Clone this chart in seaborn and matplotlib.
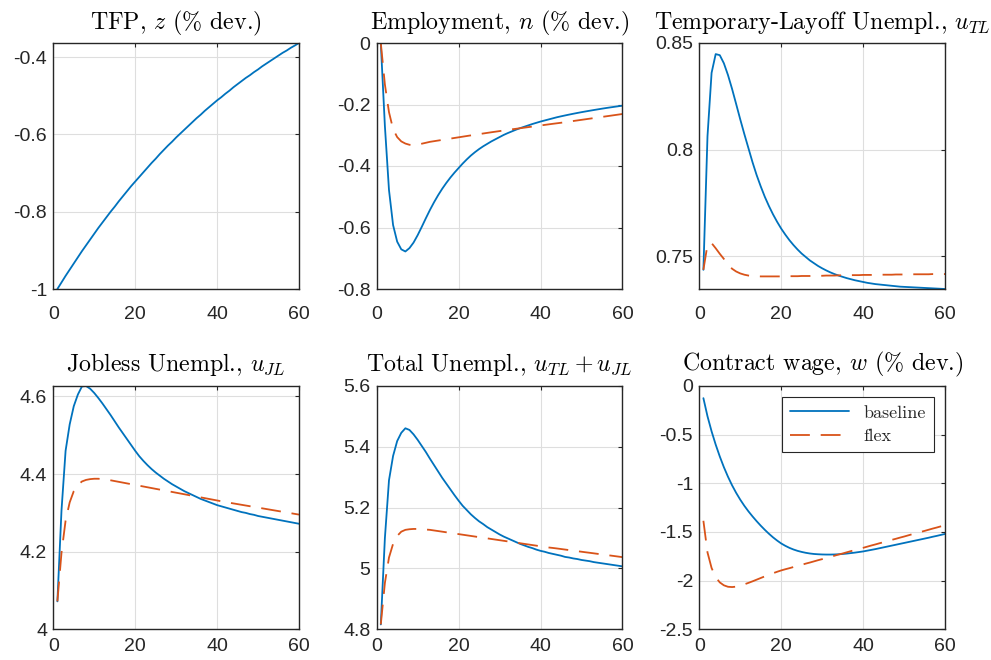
import matplotlib
matplotlib.use("Agg")
import matplotlib.pyplot as plt
from matplotlib.ticker import FuncFormatter
import pandas as pd
import seaborn as sns

# Impulse responses, periods 1..60
periods = list(range(1, 61))

tfp = [-1.000, -0.983, -0.966, -0.950, -0.934, -0.918, -0.902, -0.887, -0.872, -0.857,
       -0.842, -0.828, -0.814, -0.800, -0.787, -0.773, -0.760, -0.747, -0.734, -0.722,
       -0.710, -0.698, -0.686, -0.674, -0.663, -0.651, -0.640, -0.629, -0.619, -0.608,
       -0.598, -0.588, -0.578, -0.568, -0.558, -0.549, -0.539, -0.530, -0.521, -0.512,
       -0.504, -0.495, -0.487, -0.478, -0.470, -0.462, -0.454, -0.447, -0.439, -0.432,
       -0.424, -0.417, -0.410, -0.403, -0.396, -0.389, -0.383, -0.376, -0.370, -0.3636]

emp_base = [0.000, -0.270, -0.478, -0.592, -0.646, -0.671, -0.678, -0.667, -0.649, -0.625,
            -0.598, -0.570, -0.543, -0.518, -0.495, -0.474, -0.455, -0.4375, -0.4215, -0.4067,
            -0.392, -0.3785, -0.366, -0.355, -0.345, -0.336, -0.328, -0.320, -0.313, -0.306,
            -0.299, -0.293, -0.2875, -0.282, -0.277, -0.2725, -0.268, -0.2635, -0.2595, -0.2555,
            -0.252, -0.2485, -0.245, -0.2415, -0.2385, -0.2356, -0.2328, -0.2301, -0.2275, -0.225,
            -0.2226, -0.2203, -0.218, -0.2158, -0.2136, -0.2115, -0.2095, -0.2076, -0.2057, -0.2039]
emp_flex = [0.000, -0.135, -0.225, -0.280, -0.306, -0.320, -0.327, -0.331, -0.332, -0.3308,
            -0.3275, -0.3245, -0.3214, -0.3193, -0.3172, -0.3151, -0.313, -0.3109, -0.3088, -0.3067,
            -0.3046, -0.3025, -0.3004, -0.2983, -0.2963, -0.2943, -0.2923, -0.2903, -0.2884, -0.2865,
            -0.2846, -0.2827, -0.2808, -0.279, -0.2772, -0.2754, -0.2736, -0.2718, -0.270, -0.2682,
            -0.2664, -0.2646, -0.2628, -0.2611, -0.2594, -0.2575, -0.2556, -0.2537, -0.2518, -0.2499,
            -0.248, -0.2461, -0.2442, -0.2423, -0.2404, -0.2385, -0.2366, -0.2347, -0.2328, -0.2309]

tl_base = [0.7437, 0.8063, 0.8360, 0.8448, 0.8443, 0.8405, 0.8350, 0.8285, 0.8214, 0.8142,
           0.8073, 0.8007, 0.7941, 0.7881, 0.7828, 0.7779, 0.7736, 0.7697, 0.7662, 0.7630,
           0.7602, 0.7576, 0.7553, 0.7532, 0.7513, 0.7497, 0.7481, 0.7468, 0.7455, 0.7444,
           0.7434, 0.7425, 0.7417, 0.7410, 0.7404, 0.7398, 0.7393, 0.7388, 0.7384, 0.7380,
           0.7376, 0.7373, 0.7370, 0.7368, 0.7366, 0.7364, 0.7362, 0.7360, 0.7358, 0.7357,
           0.7356, 0.7355, 0.7354, 0.7353, 0.7352, 0.7351, 0.7350, 0.7349, 0.7348, 0.7347]
tl_flex = [0.7437, 0.7555, 0.7562, 0.7538, 0.7512, 0.7488, 0.7462, 0.7442, 0.7429, 0.7420,
           0.7414, 0.7410, 0.7408, 0.7407, 0.7406, 0.7406, 0.7406, 0.7406, 0.7406, 0.7406,
           0.7406, 0.7407, 0.7407, 0.7407, 0.7408, 0.7408, 0.7408, 0.7409, 0.7409, 0.7409,
           0.7410, 0.7410, 0.7410, 0.7411, 0.7411, 0.7411, 0.7412, 0.7412, 0.7412, 0.7413,
           0.7413, 0.7413, 0.7413, 0.7414, 0.7414, 0.7414, 0.7414, 0.7415, 0.7415, 0.7415,
           0.7415, 0.7416, 0.7416, 0.7416, 0.7416, 0.7416, 0.7417, 0.7417, 0.7417, 0.7417]

jl_base = [4.072, 4.306, 4.460, 4.528, 4.575, 4.605, 4.626, 4.627, 4.620, 4.609,
           4.596, 4.582, 4.567, 4.552, 4.536, 4.520, 4.505, 4.490, 4.475, 4.460,
           4.446, 4.434, 4.423, 4.413, 4.404, 4.396, 4.388, 4.381, 4.374, 4.368,
           4.362, 4.356, 4.351, 4.346, 4.341, 4.336, 4.332, 4.328, 4.324, 4.320,
           4.317, 4.314, 4.311, 4.308, 4.305, 4.302, 4.300, 4.297, 4.295, 4.292,
           4.290, 4.288, 4.286, 4.284, 4.282, 4.280, 4.278, 4.276, 4.274, 4.272]
jl_flex = [4.072, 4.197, 4.280, 4.327, 4.356, 4.372, 4.381, 4.385, 4.387, 4.388,
           4.388, 4.387, 4.386, 4.384, 4.382, 4.380, 4.378, 4.376, 4.374, 4.372,
           4.370, 4.368, 4.366, 4.364, 4.362, 4.360, 4.358, 4.356, 4.354, 4.352,
           4.350, 4.348, 4.346, 4.344, 4.342, 4.340, 4.338, 4.336, 4.334, 4.332,
           4.330, 4.328, 4.3262, 4.3244, 4.3226, 4.3208, 4.319, 4.3172, 4.3154, 4.3136,
           4.3118, 4.310, 4.3082, 4.3064, 4.3046, 4.3028, 4.301, 4.2992, 4.2974, 4.2956]

tot_base = [4.816, 5.100, 5.290, 5.370, 5.419, 5.446, 5.461, 5.4555, 5.441, 5.423,
            5.403, 5.383, 5.361, 5.340, 5.319, 5.298, 5.279, 5.260, 5.241, 5.223,
            5.206, 5.192, 5.178, 5.166, 5.155, 5.146, 5.136, 5.128, 5.120, 5.112,
            5.105, 5.099, 5.093, 5.087, 5.081, 5.076, 5.071, 5.067, 5.062, 5.058,
            5.055, 5.051, 5.048, 5.045, 5.042, 5.038, 5.036, 5.033, 5.031, 5.028,
            5.026, 5.024, 5.021, 5.019, 5.017, 5.015, 5.013, 5.011, 5.009, 5.007]
tot_flex = [4.816, 4.9525, 5.036, 5.081, 5.107, 5.121, 5.127, 5.129, 5.130, 5.130,
            5.129, 5.128, 5.127, 5.125, 5.123, 5.121, 5.119, 5.117, 5.115, 5.113,
            5.111, 5.109, 5.107, 5.105, 5.103, 5.101, 5.099, 5.097, 5.095, 5.093,
            5.091, 5.089, 5.087, 5.085, 5.083, 5.081, 5.079, 5.077, 5.075, 5.073,
            5.071, 5.069, 5.0675, 5.0658, 5.064, 5.0622, 5.0604, 5.0587, 5.0569, 5.0551,
            5.0533, 5.0516, 5.0498, 5.048, 5.0462, 5.0444, 5.0427, 5.0409, 5.0391, 5.0373]

wage_base = [-0.125, -0.311, -0.466, -0.602, -0.724, -0.834, -0.932, -1.020, -1.098, -1.168,
             -1.231, -1.288, -1.340, -1.389, -1.435, -1.478, -1.518, -1.555, -1.588, -1.618,
             -1.642, -1.663, -1.680, -1.694, -1.705, -1.714, -1.721, -1.726, -1.729, -1.731,
             -1.732, -1.732, -1.731, -1.729, -1.726, -1.722, -1.717, -1.712, -1.706, -1.700,
             -1.692, -1.684, -1.676, -1.667, -1.658, -1.649, -1.640, -1.631, -1.622, -1.613,
             -1.604, -1.595, -1.586, -1.577, -1.568, -1.559, -1.549, -1.540, -1.530, -1.520]
wage_flex = [-1.385, -1.710, -1.870, -1.965, -2.018, -2.048, -2.063, -2.066, -2.062, -2.051,
             -2.038, -2.023, -2.007, -1.990, -1.973, -1.956, -1.940, -1.924, -1.909, -1.895,
             -1.883, -1.872, -1.860, -1.848, -1.837, -1.825, -1.814, -1.802, -1.790, -1.779,
             -1.767, -1.755, -1.744, -1.732, -1.721, -1.709, -1.697, -1.686, -1.674, -1.663,
             -1.651, -1.639, -1.628, -1.616, -1.605, -1.593, -1.581, -1.570, -1.558, -1.547,
             -1.535, -1.523, -1.512, -1.500, -1.489, -1.477, -1.465, -1.454, -1.442, -1.431]

titles = [r"TFP, $z$ (% dev.)",
          r"Employment, $n$ (% dev.)",
          r"Temporary-Layoff Unempl., $u_{TL}$",
          r"Jobless Unempl., $u_{JL}$",
          r"Total Unempl., $u_{TL}+u_{JL}$",
          r"Contract wage, $w$ (% dev.)"]
x_ticks = [0, 20, 40, 60]
y_ticks = [[-1, -0.8, -0.6, -0.4],
           [-0.8, -0.6, -0.4, -0.2, 0],
           [0.75, 0.8, 0.85],
           [4, 4.2, 4.4, 4.6],
           [4.8, 5, 5.2, 5.4, 5.6],
           [-2.5, -2, -1.5, -1, -0.5, 0]]
y_limits = [(min(tfp), max(tfp)),
            (-0.8, 0),
            (min(tl_base), 0.85),
            (4, max(jl_base)),
            (4.8, 5.6),
            (-2.5, 0)]
series = [(tfp, None),
          (emp_base, emp_flex),
          (tl_base, tl_flex),
          (jl_base, jl_flex),
          (tot_base, tot_flex),
          (wage_base, wage_flex)]
labels = ["baseline", "flex"]

BLUE = "#0072BD"
ORANGE = "#D95319"
AXIS_GRAY = "#262626"
LW = 1.3

sns.set_style("white")
plt.rcParams["font.family"] = ["Liberation Sans", "DejaVu Sans"]
plt.rcParams["mathtext.fontset"] = "cm"
plt.rcParams["axes.unicode_minus"] = False

fig = plt.figure(figsize=(9.91, 6.60), dpi=100)

W, H = 991.0, 660.0
col_left = [53.3, 376.7, 699.3]
col_width = 245.7
row_top = [43.0, 386.0]
row_height = [246.0, 243.3]
title_pad = [10, 11]
xlabel_pad = [12, 6]

fmt = FuncFormatter(lambda v, p: f"{v:g}")

for i in range(6):
    r, c = divmod(i, 3)
    rect = [col_left[c] / W, 1 - (row_top[r] + row_height[r]) / H,
            col_width / W, row_height[r] / H]
    ax = fig.add_axes(rect)
    base, flex = series[i]
    df = pd.DataFrame({"t": periods, "base": base})
    sns.lineplot(data=df, x="t", y="base", ax=ax, color=BLUE, linewidth=LW,
                 label=labels[0] if i == 5 else None)
    if flex is not None:
        dff = pd.DataFrame({"t": periods, "flex": flex})
        sns.lineplot(data=dff, x="t", y="flex", ax=ax, color=ORANGE, linewidth=LW,
                     linestyle=(0, (11, 6)), label=labels[1] if i == 5 else None)
    ax.set_xlim(0, 60)
    ax.set_ylim(*y_limits[i])
    ax.set_xticks(x_ticks)
    ax.set_yticks(y_ticks[i])
    ax.xaxis.set_major_formatter(fmt)
    ax.yaxis.set_major_formatter(fmt)
    ax.set_xlabel("")
    ax.set_ylabel("")
    ax.grid(True, color="#dedede", linewidth=0.8)
    ax.set_axisbelow(True)
    for s in ax.spines.values():
        s.set_color(AXIS_GRAY)
        s.set_linewidth(1.0)
        s.set_visible(True)
    ax.tick_params(axis="both", which="major", direction="in", length=3, width=0.8,
                   color=AXIS_GRAY, labelcolor=AXIS_GRAY, labelsize=14,
                   top=True, right=True)
    ax.tick_params(axis="x", pad=xlabel_pad[r])
    ax.tick_params(axis="y", pad=4.5)
    ax.set_title(titles[i], fontsize=17.2, family="cmr10", pad=title_pad[r],
                 color="black")
    if i == 5:
        leg = ax.legend(loc="upper right", frameon=True, fancybox=False, framealpha=1,
                        edgecolor=AXIS_GRAY, borderaxespad=0.6, handlelength=3.3,
                        prop={"family": "cmr10", "size": 13}, labelspacing=0.45,
                        borderpad=0.45)
        leg.get_frame().set_linewidth(0.8)
    elif ax.get_legend() is not None:
        ax.get_legend().remove()

fig.savefig("out.png", dpi=100)
